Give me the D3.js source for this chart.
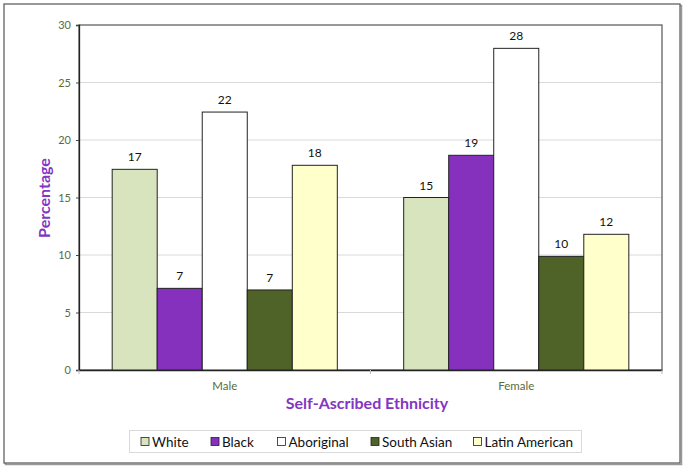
<!DOCTYPE html>
<html>
<head>
<meta charset="utf-8">
<script src="https://cdn.jsdelivr.net/npm/d3@7"></script>
<style>
  html, body { margin: 0; padding: 0; background: #fff; }
  svg { display: block; }
  text { font-family: "Lato", "Open Sans", sans-serif; }
</style>
</head>
<body>
<svg id="chart" width="685" height="469"></svg>
<script>
// ---- Data ----
const groups = ["Male", "Female"];
const series = ["White", "Black", "Aboriginal", "South Asian", "Latin American"];
const maleValues = [17.45, 7.1, 22.43, 6.96, 17.8];
const femaleValues = [15.0, 18.67, 27.97, 9.88, 11.8];
const seriesColors = ["#d7e4bd", "#8531bd", "#ffffff", "#4f6228", "#ffffcc"];
const yTicks = [0, 5, 10, 15, 20, 25, 30];

const valuesByGroup = { "Male": maleValues, "Female": femaleValues };

const svg = d3.select("#chart");

// outer frame with slight shadow
svg.append("rect").attr("x", 5.5).attr("y", 5.5).attr("width", 676).attr("height", 459)
  .attr("fill", "none").attr("stroke", "#999").attr("stroke-width", 1.5);
svg.append("rect").attr("x", 4).attr("y", 4).attr("width", 676).attr("height", 459)
  .attr("fill", "#fff").attr("stroke", "#555").attr("stroke-width", 1.2);

const plot = { left: 79, top: 25, right: 662, bottom: 370 };
const pw = plot.right - plot.left, ph = plot.bottom - plot.top;

const g = svg.append("g").attr("transform", `translate(${plot.left},${plot.top})`);

const y = d3.scaleLinear().domain([0, 30]).range([ph, 0]);
const x0 = d3.scaleBand().domain(groups).range([0, pw]).padding(0);
const x1 = d3.scaleBand().domain(series).range([0, x0.bandwidth()]).paddingInner(0).paddingOuter(0.737);
const color = d3.scaleOrdinal().domain(series).range(seriesColors);

// gridlines
g.append("g").selectAll("line").data(yTicks.filter(t => t > 0 && t < 30)).join("line")
  .attr("x1", 0).attr("x2", pw).attr("y1", d => y(d)).attr("y2", d => y(d))
  .attr("stroke", "#d9d9d9").attr("stroke-width", 1);

// plot border
g.append("rect").attr("x", 0).attr("y", 0).attr("width", pw).attr("height", ph)
  .attr("fill", "none").attr("stroke", "#555").attr("stroke-width", 1.2);

// y axis
const yAxis = d3.axisLeft(y).tickValues(yTicks).tickSize(3).tickPadding(5).tickFormat(d3.format("d"));
const ya = g.append("g").call(yAxis);
ya.select(".domain").attr("stroke", "#222").attr("stroke-width", 1.3);
ya.selectAll(".tick line").attr("stroke", "#444");
ya.selectAll("text").attr("fill", "#5b6b3c").style("font-size", "11px").style("font-family", "Lato, sans-serif");

// x axis
const xa = g.append("g").attr("transform", `translate(0,${ph})`)
  .call(d3.axisBottom(x0).tickSize(0).tickPadding(12));
xa.select(".domain").attr("stroke", "#222").attr("stroke-width", 1.5);
xa.selectAll("text").attr("fill", "#5b6b3c").style("font-size", "11.5px").style("font-family", "Lato, sans-serif");
// category boundary ticks
xa.append("g").selectAll("line").data([0, x0.bandwidth(), pw]).join("line")
  .attr("x1", d => d).attr("x2", d => d).attr("y1", 0).attr("y2", 4)
  .attr("stroke", "#bbb");

// bars
const gg = g.append("g").selectAll("g").data(groups).join("g")
  .attr("transform", d => `translate(${x0(d)},0)`);
gg.selectAll("rect").data(d => series.map((s, i) => ({ s, v: valuesByGroup[d][i] }))).join("rect")
  .attr("x", d => x1(d.s)).attr("width", x1.bandwidth())
  .attr("y", d => y(d.v)).attr("height", d => ph - y(d.v))
  .attr("fill", d => color(d.s)).attr("stroke", "#222").attr("stroke-width", 1);
gg.selectAll("text.lbl").data(d => series.map((s, i) => ({ s, v: valuesByGroup[d][i] }))).join("text")
  .attr("class", "lbl")
  .attr("x", d => x1(d.s) + x1.bandwidth() / 2).attr("y", d => y(d.v) - 8)
  .attr("text-anchor", "middle").attr("fill", "#111").style("font-size", "12px")
  .text(d => Math.round(d.v));

// axis titles
svg.append("text").attr("x", 367).attr("y", 409).attr("text-anchor", "middle")
  .attr("fill", "#8336c2").style("font-size", "16px").style("font-weight", "bold")
  .text("Self-Ascribed Ethnicity");
svg.append("text").attr("transform", "translate(50,198) rotate(-90)").attr("text-anchor", "middle")
  .attr("fill", "#8336c2").style("font-size", "16px").style("font-weight", "bold")
  .text("Percentage");

// legend
const legend = svg.append("g");
legend.append("rect").attr("x", 129.5).attr("y", 430.5).attr("width", 452).attr("height", 22)
  .attr("fill", "#fff").attr("stroke", "#d9d9d9");
const legendX = [141, 211, 277.5, 371, 473.5];
const li = legend.selectAll("g.item").data(series).join("g").attr("class", "item")
  .attr("transform", (d, i) => `translate(${legendX[i]},441.5)`);
li.append("rect").attr("x", 0).attr("y", -4).attr("width", 8).attr("height", 8)
  .attr("fill", d => color(d)).attr("stroke", "#222").attr("stroke-width", 0.8);
li.append("text").attr("x", 11).attr("y", 5).attr("fill", "#111").style("font-size", "13.5px")
  .text(d => d);
</script>
</body>
</html>
